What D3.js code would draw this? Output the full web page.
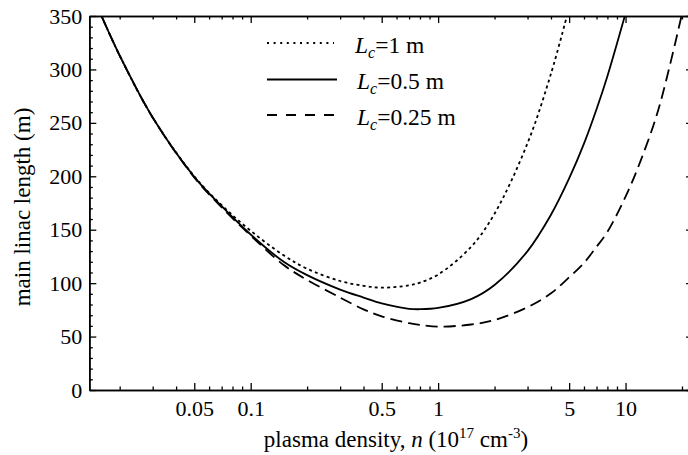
<!DOCTYPE html>
<html>
<head>
<meta charset="utf-8">
<script src="https://cdn.jsdelivr.net/npm/d3@7"></script>
<style>
body { margin: 0; background: #ffffff; }
</style>
</head>
<body>
<svg id="chart" width="688" height="455"></svg>
<script>
// plasma density (10^17 cm^-3)
let densities   = [0.016, 0.02, 0.03, 0.05, 0.07, 0.1, 0.15, 0.2, 0.3, 0.4, 0.5, 0.7, 0.8, 1, 1.5, 2, 3, 4, 5, 6, 7, 8, 10, 12, 15, 20];
// main linac length (m), one list per Lc
let lengthLc1   = [350, 313, 255, 200, 173, 149, 126, 113.5, 102, 97.5, 95.8, 97.9, 100.5, 108, 134, 165, 231, 296, 358, null, null, null, null, null, null, null];
let lengthLc05  = [350, 313, 255, 199.5, 172, 145.5, 120, 107.5, 94, 86.5, 81, 76, 75.6, 76.8, 85.1, 98.3, 130, 164, 198, 230.6, 262.8, 293.7, 352.5, null, null, null];
let lengthLc025 = [350, 313, 255, 199, 171, 144.5, 117, 103, 86.5, 75.5, 69, 62.5, 61, 59.3, 61.3, 65.5, 77.5, 90.5, 105.5, 119, 134, 148, 181, 214, 263, 352];
let seriesLabels = ["=1 m", "=0.5 m", "=0.25 m"];
let xMajorTicks = [0.05, 0.1, 0.5, 1, 5, 10];
let xTickLabels = ["0.05", "0.1", "0.5", "1", "5", "10"];
let yMajorTicks = [0, 50, 100, 150, 200, 250, 300, 350];
let yTickLabels = ["0", "50", "100", "150", "200", "250", "300", "350"];

let drawTarget = "#chart";
let plotLeft = 89.3;
let plotRight = 693;
let plotTop = 16;
let plotBottom = 390;
let fontFamily = "'Liberation Serif', 'Times New Roman', serif";
let tickFont = 22;
let labelFont = 23;
let legendFont = 23.5;
let lineColor = "#000000";

let x = d3.scaleLog().domain([0.01377, 22.9]).range([plotLeft, plotRight]);
let y = d3.scaleLinear().domain([0, 350]).range([plotBottom, plotTop]);

let svg = d3.select(drawTarget);

// minor tick positions
let xMinorTicks = [];
[0.01, 0.1, 1, 10].forEach(function(dec) {
    for (let k = 2; k <= 9; k++) {
        let v = k * dec;
        if (v > x.domain()[0] && v < x.domain()[1] && k != 5) xMinorTicks.push(v);
    }
});
let yMinorTicks = d3.range(0, 351, 10).filter(v => v % 50 != 0);

function styleAxis(g)
{
    g.attr("font-family", fontFamily).attr("font-size", tickFont);
    g.select(".domain").attr("stroke", lineColor).attr("stroke-width", 1.6);
    g.selectAll(".tick line").attr("stroke", lineColor).attr("stroke-width", 1.3);
    g.selectAll(".tick text").attr("fill", lineColor);
}

function drawAxes()
{
    // minor ticks first
    svg.append("g").attr("transform", "translate(0," + plotBottom + ")")
        .call(d3.axisBottom(x).tickValues(xMinorTicks).tickSize(-3.5).tickSizeOuter(0).tickFormat(""))
        .call(styleAxis);
    svg.append("g").attr("transform", "translate(0," + plotTop + ")")
        .call(d3.axisTop(x).tickValues(xMinorTicks).tickSize(-3.5).tickSizeOuter(0).tickFormat(""))
        .call(styleAxis);
    svg.append("g").attr("transform", "translate(" + plotLeft + ",0)")
        .call(d3.axisLeft(y).tickValues(yMinorTicks).tickSize(-3.5).tickSizeOuter(0).tickFormat(""))
        .call(styleAxis);
    svg.append("g").attr("transform", "translate(" + plotRight + ",0)")
        .call(d3.axisRight(y).tickValues(yMinorTicks).tickSize(-3.5).tickSizeOuter(0).tickFormat(""))
        .call(styleAxis);

    // major ticks
    svg.append("g").attr("transform", "translate(0," + plotBottom + ")")
        .call(d3.axisBottom(x).tickValues(xMajorTicks).tickSize(-7).tickSizeOuter(0).tickPadding(10)
            .tickFormat((d, i) => xTickLabels[i]))
        .call(styleAxis);
    svg.append("g").attr("transform", "translate(0," + plotTop + ")")
        .call(d3.axisTop(x).tickValues(xMajorTicks).tickSize(-7).tickSizeOuter(0).tickFormat(""))
        .call(styleAxis);
    svg.append("g").attr("transform", "translate(" + plotLeft + ",0)")
        .call(d3.axisLeft(y).tickValues(yMajorTicks).tickSize(-7).tickSizeOuter(0).tickPadding(7)
            .tickFormat((d, i) => yTickLabels[i]))
        .call(styleAxis);
    svg.append("g").attr("transform", "translate(" + plotRight + ",0)")
        .call(d3.axisRight(y).tickValues(yMajorTicks).tickSize(-7).tickSizeOuter(0).tickFormat(""))
        .call(styleAxis);
}

function drawLabels()
{
    let xl = svg.append("text")
        .attr("x", 396).attr("y", 447)
        .attr("text-anchor", "middle")
        .attr("font-family", fontFamily).attr("font-size", labelFont)
        .attr("fill", lineColor);
    xl.append("tspan").text("plasma density, ");
    xl.append("tspan").attr("font-style", "italic").text("n");
    xl.append("tspan").text(" (10");
    xl.append("tspan").attr("font-size", 15).attr("dy", -9).text("17");
    xl.append("tspan").attr("dy", 9).text(" cm");
    xl.append("tspan").attr("font-size", 15).attr("dy", -9).text("-3");
    xl.append("tspan").attr("dy", 9).text(")");

    svg.append("text")
        .attr("transform", "translate(30,207) rotate(-90)")
        .attr("text-anchor", "middle")
        .attr("font-family", fontFamily).attr("font-size", labelFont)
        .attr("fill", lineColor)
        .text("main linac length (m)");
}

let curveDash = ["3,3.2", null, "12,6"];
let legendDash = ["2,4.6", null, "10,9"];
let seriesValues = [lengthLc1, lengthLc05, lengthLc025];

function drawCurves()
{
    svg.append("clipPath").attr("id", "plotClip")
        .append("rect")
        .attr("x", plotLeft).attr("y", plotTop)
        .attr("width", plotRight - plotLeft).attr("height", plotBottom - plotTop);

    let line = d3.line()
        .defined(d => d.v != null)
        .x(d => x(d.n))
        .y(d => y(d.v))
        .curve(d3.curveCatmullRom.alpha(0.5));

    seriesValues.forEach(function(vals, i) {
        let pts = densities.map((n, j) => ({n: n, v: vals[j]}));
        svg.append("path")
            .datum(pts)
            .attr("clip-path", "url(#plotClip)")
            .attr("fill", "none")
            .attr("stroke", lineColor)
            .attr("stroke-width", 1.8)
            .attr("stroke-dasharray", curveDash[i])
            .attr("d", line);
    });
}

function drawLegend()
{
    let rowY = [43, 79.5, 115];
    seriesLabels.forEach(function(label, i) {
        svg.append("line")
            .attr("x1", 267).attr("x2", i == 0 ? 334 : 337)
            .attr("y1", rowY[i]).attr("y2", rowY[i])
            .attr("stroke", lineColor)
            .attr("stroke-width", 1.8)
            .attr("stroke-dasharray", legendDash[i]);
        let t = svg.append("text")
            .attr("x", i == 0 ? 355 : 357)
            .attr("y", rowY[i] + 9.5)
            .attr("font-family", fontFamily).attr("font-size", legendFont)
            .attr("fill", lineColor);
        t.append("tspan").attr("font-style", "italic").text("L");
        t.append("tspan").attr("font-style", "italic").attr("font-size", 16).attr("dy", 5).text("c");
        t.append("tspan").attr("dy", -5).text(label);
    });
}

drawCurves();
drawAxes();
drawLabels();
drawLegend();
</script>
</body>
</html>
